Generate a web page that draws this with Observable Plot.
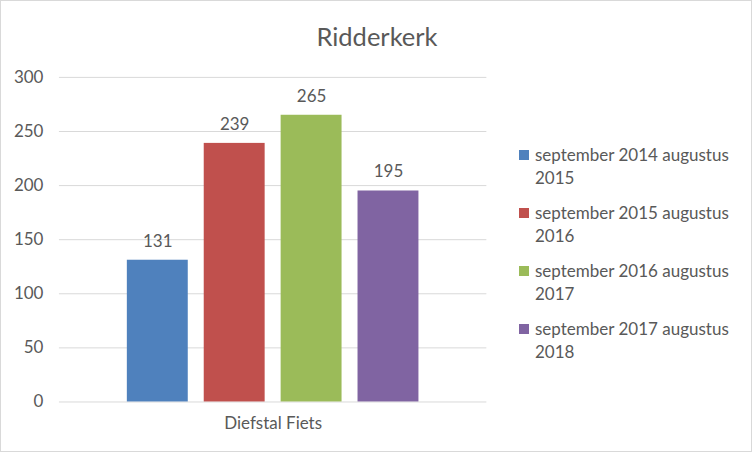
<!DOCTYPE html>
<html>
<head>
<meta charset="utf-8">
<script src="https://cdn.jsdelivr.net/npm/d3@7"></script>
<script src="https://cdn.jsdelivr.net/npm/@observablehq/plot@0.6"></script>
<style>
  html, body { margin: 0; padding: 0; background: #fff; }
  #wrap { position: relative; width: 752px; height: 452px; box-sizing: border-box; border: 1px solid #D9D9D9; overflow: hidden; font-family: Lato, "Open Sans", sans-serif; color: #595959; }
  #chart { position: absolute; left: -1px; top: -1px; }
  #title { position: absolute; left: 0; width: 752px; top: 19px; text-align: center; font-size: 25.5px; line-height: 32px; padding-left: 0; box-sizing: border-box; }
  #legend { position: absolute; left: 518px; top: 142px; font-size: 17px; line-height: 23px; }
  .item { position: relative; padding-left: 16px; margin-bottom: 12px; white-space: nowrap; }
  .sw { position: absolute; left: 0; top: 7px; width: 10px; height: 10px; }
</style>
</head>
<body>
<div id="wrap">
  <div id="chart"></div>
  <div id="title"></div>
  <div id="legend"></div>
</div>
<script>
const title = "Ridderkerk";
const category = "Diefstal Fiets";
const seriesNames = [
  "september 2014 augustus 2015",
  "september 2015 augustus 2016",
  "september 2016 augustus 2017",
  "september 2017 augustus 2018"
];
const values = [131, 239, 265, 195];
const colors = ["#4F81BD", "#C0504D", "#9BBB59", "#8064A2"];
const yTicks = [0, 50, 100, 150, 200, 250, 300];

const data = seriesNames.map((s, i) => ({cat: category, series: s, value: values[i]}));

const chart = Plot.plot({
  width: 752,
  height: 452,
  marginLeft: 59,
  marginRight: 265,
  marginTop: 77,
  marginBottom: 50,
  style: {fontFamily: "Lato, 'Open Sans', sans-serif", fontSize: "17px", color: "#595959", background: "transparent"},
  fx: {padding: 0, label: null},
  x: {domain: seriesNames, paddingInner: 0.208, paddingOuter: 0.883, axis: null},
  y: {domain: [0, 300], label: null},
  color: {domain: seriesNames, range: colors},
  marks: [
    Plot.gridY(yTicks, {stroke: "#D9D9D9", strokeOpacity: 1}),
    Plot.axisY(yTicks, {tickSize: 0, tickPadding: 16, fill: "#595959", fontSize: 17}),
    Plot.axisFx({anchor: "bottom", tickSize: 0, tickPadding: 15, label: null, fill: "#595959", fontSize: 17}),
    Plot.barY(data, {fx: "cat", x: "series", y: "value", fill: "series"}),
    Plot.text(data, {fx: "cat", x: "series", y: "value", text: d => String(d.value), dy: -19, fill: "#595959", fontSize: 17})
  ]
});
document.getElementById("chart").appendChild(chart);
document.getElementById("title").textContent = title;

const legend = document.getElementById("legend");
seriesNames.forEach((s, i) => {
  const item = document.createElement("div");
  item.className = "item";
  const sw = document.createElement("span");
  sw.className = "sw";
  sw.style.background = colors[i];
  item.appendChild(sw);
  const words = s.split(" ");
  const line1 = words.slice(0, 3).join(" ");
  const line2 = words.slice(3).join(" ");
  item.appendChild(document.createTextNode(line1));
  item.appendChild(document.createElement("br"));
  item.appendChild(document.createTextNode(line2));
  legend.appendChild(item);
});
</script>
</body>
</html>
